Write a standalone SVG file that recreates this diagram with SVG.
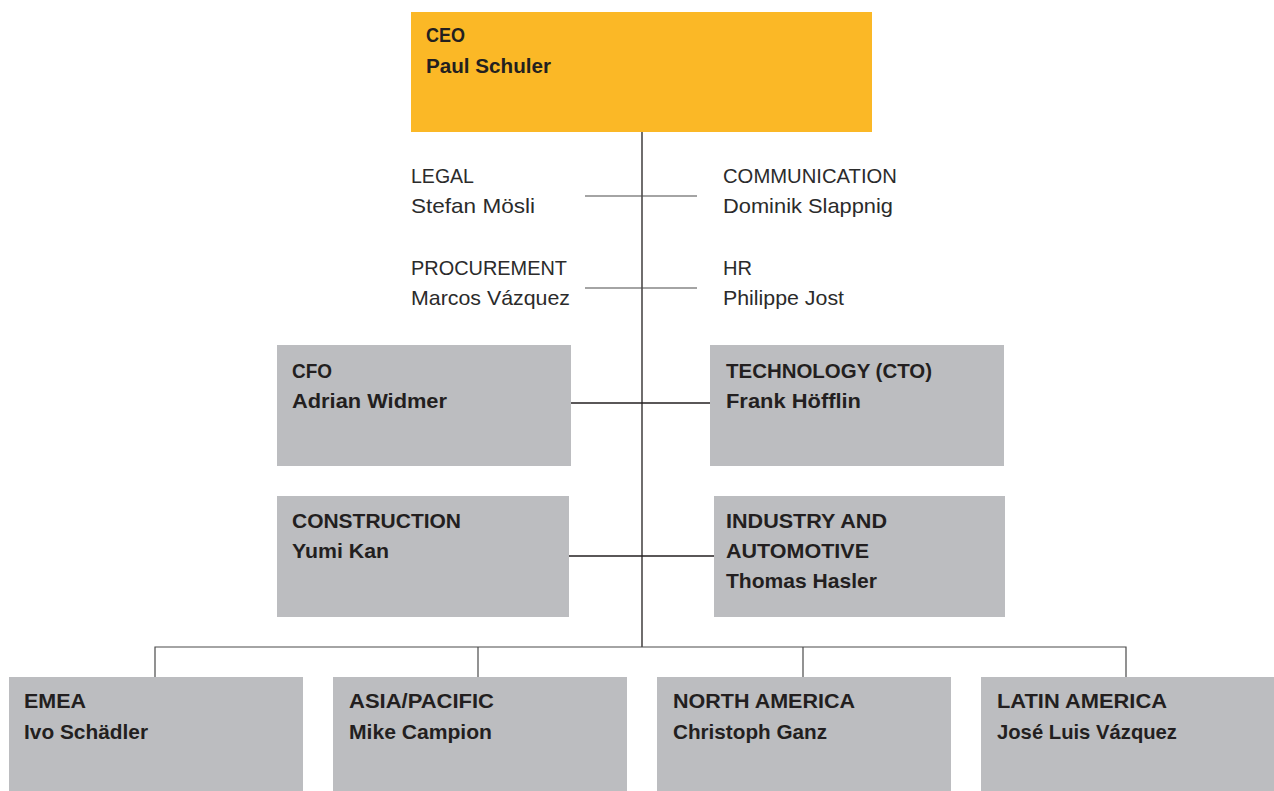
<svg xmlns="http://www.w3.org/2000/svg" width="1274" height="791" viewBox="0 0 1274 791">
  <style>
    .box { fill: #bcbdc0; }
    .ceo { fill: #fbb826; }
    .t { font-family: "Liberation Sans", Arial, sans-serif; font-size: 21px; font-weight: bold; fill: #231f20; }
    .s { font-family: "Liberation Sans", Arial, sans-serif; font-size: 21px; font-weight: normal; fill: #2b2b2b; }
    .ln { stroke: #231f20; stroke-width: 1.3; fill: none; }
    .ls { stroke: #4a4a4a; stroke-width: 1.2; fill: none; }
  </style>
  <rect width="1274" height="791" fill="#ffffff"/>

  <!-- connectors -->
  <g id="connectors">
    <line class="ln" x1="642" y1="132" x2="642" y2="647"/>
    <line class="ls" x1="585" y1="196" x2="697" y2="196"/>
    <line class="ls" x1="585" y1="288" x2="697" y2="288"/>
    <line class="ln" x1="571" y1="403" x2="710" y2="403"/>
    <line class="ln" x1="569" y1="556" x2="714" y2="556"/>
    <polyline class="ls" points="155,677 155,647 1126,647 1126,677"/>
    <line class="ls" x1="478" y1="647" x2="478" y2="677"/>
    <line class="ls" x1="803" y1="647" x2="803" y2="677"/>
  </g>

  <g id="ceo">
    <rect class="ceo" x="411" y="12" width="461" height="120"/>
    <text class="t" x="426" y="42" textLength="39" lengthAdjust="spacingAndGlyphs">CEO</text>
    <text class="t" x="426" y="73" textLength="125" lengthAdjust="spacingAndGlyphs">Paul Schuler</text>
  </g>

  <g id="legal">
    <text class="s" x="411" y="183" textLength="63" lengthAdjust="spacingAndGlyphs">LEGAL</text>
    <text class="s" x="411" y="213" textLength="124" lengthAdjust="spacingAndGlyphs">Stefan Mösli</text>
  </g>
  <g id="communication">
    <text class="s" x="723" y="183" textLength="174" lengthAdjust="spacingAndGlyphs">COMMUNICATION</text>
    <text class="s" x="723" y="213" textLength="170" lengthAdjust="spacingAndGlyphs">Dominik Slappnig</text>
  </g>
  <g id="procurement">
    <text class="s" x="411" y="275" textLength="156" lengthAdjust="spacingAndGlyphs">PROCUREMENT</text>
    <text class="s" x="411" y="305" textLength="159" lengthAdjust="spacingAndGlyphs">Marcos Vázquez</text>
  </g>
  <g id="hr">
    <text class="s" x="723" y="275" textLength="29" lengthAdjust="spacingAndGlyphs">HR</text>
    <text class="s" x="723" y="305" textLength="121" lengthAdjust="spacingAndGlyphs">Philippe Jost</text>
  </g>

  <g id="cfo">
    <rect class="box" x="277" y="345" width="294" height="121"/>
    <text class="t" x="292" y="378" textLength="40" lengthAdjust="spacingAndGlyphs">CFO</text>
    <text class="t" x="292" y="408" textLength="155" lengthAdjust="spacingAndGlyphs">Adrian Widmer</text>
  </g>
  <g id="cto">
    <rect class="box" x="710" y="345" width="294" height="121"/>
    <text class="t" x="726" y="378" textLength="206" lengthAdjust="spacingAndGlyphs">TECHNOLOGY (CTO)</text>
    <text class="t" x="726" y="408" textLength="135" lengthAdjust="spacingAndGlyphs">Frank Höfflin</text>
  </g>
  <g id="construction">
    <rect class="box" x="277" y="496" width="292" height="121"/>
    <text class="t" x="292" y="528" textLength="169" lengthAdjust="spacingAndGlyphs">CONSTRUCTION</text>
    <text class="t" x="292" y="558" textLength="97" lengthAdjust="spacingAndGlyphs">Yumi Kan</text>
  </g>
  <g id="industry">
    <rect class="box" x="714" y="496" width="291" height="121"/>
    <text class="t" x="726" y="528" textLength="161" lengthAdjust="spacingAndGlyphs">INDUSTRY AND</text>
    <text class="t" x="726" y="558" textLength="143" lengthAdjust="spacingAndGlyphs">AUTOMOTIVE</text>
    <text class="t" x="726" y="588" textLength="151" lengthAdjust="spacingAndGlyphs">Thomas Hasler</text>
  </g>

  <g id="emea">
    <rect class="box" x="9" y="677" width="294" height="114"/>
    <text class="t" x="24" y="708" textLength="62" lengthAdjust="spacingAndGlyphs">EMEA</text>
    <text class="t" x="24" y="739" textLength="124" lengthAdjust="spacingAndGlyphs">Ivo Schädler</text>
  </g>
  <g id="asia-pacific">
    <rect class="box" x="333" y="677" width="294" height="114"/>
    <text class="t" x="349" y="708" textLength="145" lengthAdjust="spacingAndGlyphs">ASIA/PACIFIC</text>
    <text class="t" x="349" y="739" textLength="143" lengthAdjust="spacingAndGlyphs">Mike Campion</text>
  </g>
  <g id="north-america">
    <rect class="box" x="657" y="677" width="294" height="114"/>
    <text class="t" x="673" y="708" textLength="182" lengthAdjust="spacingAndGlyphs">NORTH AMERICA</text>
    <text class="t" x="673" y="739" textLength="154" lengthAdjust="spacingAndGlyphs">Christoph Ganz</text>
  </g>
  <g id="latin-america">
    <rect class="box" x="981" y="677" width="293" height="114"/>
    <text class="t" x="997" y="708" textLength="170" lengthAdjust="spacingAndGlyphs">LATIN AMERICA</text>
    <text class="t" x="997" y="739" textLength="180" lengthAdjust="spacingAndGlyphs">José Luis Vázquez</text>
  </g>
</svg>
